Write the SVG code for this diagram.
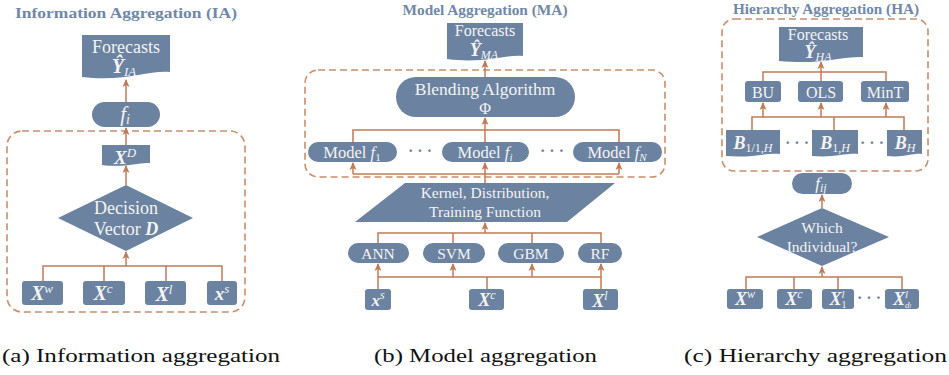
<svg xmlns="http://www.w3.org/2000/svg" width="949" height="375" viewBox="0 0 949 375">
<defs>
  <marker id="arr" markerUnits="userSpaceOnUse" markerWidth="9" markerHeight="9" refX="7" refY="4" orient="auto">
    <path d="M0,0.5 L8,4 L0,7.5 L2,4 Z" fill="#c07a55"/>
  </marker>
  <style>
    .box{fill:#6b82a0}
    .dash{fill:none;stroke:#c98e6c;stroke-width:1.6;stroke-dasharray:7,4}
    .ln{fill:none;stroke:#c07a55;stroke-width:1.5}
    .ar{fill:none;stroke:#c07a55;stroke-width:1.5;marker-end:url(#arr)}
    .t{font-family:"Liberation Serif","DejaVu Serif",serif;fill:#f4f4f4;text-anchor:middle}
    .m{font-family:"Liberation Serif","DejaVu Serif",serif;fill:#f4f4f4;font-style:italic;text-anchor:middle}
    .mb{font-weight:bold}
    .title{font-family:"Liberation Serif","DejaVu Serif",serif;font-weight:bold;fill:#7088a8;text-anchor:middle}
    .cap{font-family:"Liberation Serif","DejaVu Serif",serif;fill:#111;font-size:19px}
    .dots{font-family:"Liberation Serif","DejaVu Serif",serif;fill:#6b82a0;font-size:16px;text-anchor:middle;font-weight:bold}
  </style>
</defs>

<!-- ===== (a) Information aggregation ===== -->
<text class="title" x="126" y="18" font-size="15.5" textLength="222" lengthAdjust="spacingAndGlyphs">Information Aggregation (IA)</text>
<rect class="dash" x="7" y="131" width="238" height="181" rx="15"/>

<g id="ia-forecast">
  <path class="box" d="M82,35 H170 V72 C148,70 126,82 82,77 Z"/>
  <text class="t" x="126" y="53" font-size="18">Forecasts</text>
  <text class="m" x="124" y="73" font-size="20"><tspan class="mb">Ŷ</tspan><tspan font-size="13" dy="3">IA</tspan></text>
</g>
<g id="ia-fi">
  <rect class="box" x="92" y="102" width="68" height="25" rx="12.5"/>
  <text class="m" x="125" y="121" font-size="21">f<tspan font-size="14" dy="3">i</tspan></text>
</g>
<g id="ia-xd">
  <path class="box" d="M102,145 H150 V163 C138,162 126,168 102,165 Z"/>
  <text class="m" x="125" y="164" font-size="19"><tspan class="mb">X</tspan><tspan font-size="13" dy="-7">D</tspan></text>
</g>
<g id="ia-decision">
  <polygon class="box" points="126,185 193,218 126,251 58,218"/>
  <text class="t" x="126" y="214" font-size="18">Decision</text>
  <text class="t" x="126" y="235" font-size="18">Vector <tspan font-style="italic" font-weight="bold">D</tspan></text>
</g>
<g id="ia-xw">
  <rect class="box" x="22" y="281" width="41" height="24" rx="3"/>
  <text class="m" x="42" y="300" font-size="20"><tspan class="mb">X</tspan><tspan font-size="13" dy="-7">w</tspan></text>
</g>
<g id="ia-xc">
  <rect class="box" x="83" y="281" width="42" height="24" rx="3"/>
  <text class="m" x="103" y="300" font-size="20"><tspan class="mb">X</tspan><tspan font-size="13" dy="-7">c</tspan></text>
</g>
<g id="ia-xl">
  <rect class="box" x="145" y="281" width="41" height="24" rx="3"/>
  <text class="m" x="164" y="301" font-size="20"><tspan class="mb">X</tspan><tspan font-size="13" dy="-7">l</tspan></text>
</g>
<g id="ia-xs">
  <rect class="box" x="207" y="281" width="30" height="24" rx="3"/>
  <text class="m" x="222" y="300" font-size="19"><tspan class="mb">x</tspan><tspan font-size="13" dy="-7">s</tspan></text>
</g>

<!-- ===== (b) Model aggregation ===== -->
<text class="title" x="485" y="15" font-size="14" textLength="165" lengthAdjust="spacingAndGlyphs">Model Aggregation (MA)</text>
<rect class="dash" x="305" y="70" width="360" height="107" rx="13"/>

<g id="ma-forecast">
  <path class="box" d="M447,23 H523 V56 C505,54 485,64 447,59 Z"/>
  <text class="t" x="485" y="36" font-size="16">Forecasts</text>
  <text class="m" x="484" y="56" font-size="18"><tspan class="mb">Ŷ</tspan><tspan font-size="12" dy="3">MA</tspan></text>
</g>
<g id="ma-blend">
  <rect class="box" x="396" y="77" width="179" height="40" rx="20"/>
  <text class="t" x="485" y="95" font-size="17.5">Blending Algorithm</text>
  <text class="t" x="485" y="114" font-size="16">Φ</text>
</g>
<g id="ma-model1">
  <rect class="box" x="308" y="142" width="89" height="20" rx="10"/>
  <text class="t" x="352" y="158" font-size="16.5">Model <tspan font-style="italic">f</tspan><tspan font-size="11" dy="3">1</tspan></text>
</g>
<g id="ma-modeli">
  <rect class="box" x="442" y="142" width="87" height="20" rx="10"/>
  <text class="t" x="485" y="158" font-size="16.5">Model <tspan font-style="italic">f</tspan><tspan font-size="11" dy="3" font-style="italic">i</tspan></text>
</g>
<g id="ma-modeln">
  <rect class="box" x="573" y="142" width="89" height="20" rx="10"/>
  <text class="t" x="617" y="158" font-size="16.5">Model <tspan font-style="italic">f</tspan><tspan font-size="11" dy="3" font-style="italic">N</tspan></text>
</g>
<text class="dots" x="420" y="156">· · ·</text>
<text class="dots" x="552" y="156">· · ·</text>
<g id="ma-kernel">
  <polygon class="box" points="405,183 615,183 567,222 355,222"/>
  <text class="t" x="485" y="198" font-size="15.5">Kernel, Distribution,</text>
  <text class="t" x="485" y="217" font-size="15.5">Training Function</text>
</g>
<g id="ma-ann">
  <rect class="box" x="348" y="243" width="61" height="20" rx="10"/>
  <text class="t" x="378" y="258.5" font-size="15.5">ANN</text>
</g>
<g id="ma-svm">
  <rect class="box" x="423" y="243" width="62" height="20" rx="10"/>
  <text class="t" x="454" y="258.5" font-size="15.5">SVM</text>
</g>
<g id="ma-gbm">
  <rect class="box" x="498" y="243" width="66" height="20" rx="10"/>
  <text class="t" x="531" y="258.5" font-size="15.5">GBM</text>
</g>
<g id="ma-rf">
  <rect class="box" x="578" y="243" width="44" height="20" rx="10"/>
  <text class="t" x="600" y="258.5" font-size="15.5">RF</text>
</g>
<g id="ma-xs">
  <rect class="box" x="365" y="289" width="26" height="21" rx="3"/>
  <text class="m" x="378" y="306" font-size="17"><tspan class="mb">x</tspan><tspan font-size="12" dy="-7">s</tspan></text>
</g>
<g id="ma-xc">
  <rect class="box" x="469" y="289" width="35" height="21" rx="3"/>
  <text class="m" x="487" y="306" font-size="18"><tspan class="mb">X</tspan><tspan font-size="12" dy="-7">c</tspan></text>
</g>
<g id="ma-xl">
  <rect class="box" x="583" y="289" width="35" height="21" rx="3"/>
  <text class="m" x="600" y="307" font-size="18"><tspan class="mb">X</tspan><tspan font-size="12" dy="-7">l</tspan></text>
</g>

<!-- ===== (c) Hierarchy aggregation ===== -->
<text class="title" x="826" y="14" font-size="14" textLength="186" lengthAdjust="spacingAndGlyphs">Hierarchy Aggregation (HA)</text>
<rect class="dash" x="722" y="19" width="206" height="152" rx="12"/>

<g id="ha-forecast">
  <path class="box" d="M779,27 H863 V57 C843,56 822,65 779,61 Z"/>
  <text class="t" x="818" y="40" font-size="16">Forecasts</text>
  <text class="m" x="818" y="58" font-size="18"><tspan class="mb">Ŷ</tspan><tspan font-size="12" dy="3">HA</tspan></text>
</g>
<g id="ha-bu">
  <rect class="box" x="745" y="81" width="36" height="21" rx="3"/>
  <text class="t" x="763" y="97.5" font-size="16">BU</text>
</g>
<g id="ha-ols">
  <rect class="box" x="798" y="81" width="45" height="21" rx="3"/>
  <text class="t" x="821" y="97.5" font-size="16">OLS</text>
</g>
<g id="ha-mint">
  <rect class="box" x="861" y="81" width="48" height="21" rx="3"/>
  <text class="t" x="885" y="97.5" font-size="16">MinT</text>
</g>
<g id="ha-b11h">
  <path class="box" d="M726,130 H780 V154 C765,153 752,158 726,156 Z"/>
  <text class="m" x="753" y="149" font-size="18"><tspan class="mb">B</tspan><tspan font-size="12" dy="3" font-style="normal">1/1,</tspan><tspan font-size="12">H</tspan></text>
</g>
<g id="ha-b1h">
  <path class="box" d="M812,130 H858 V154 C845,153 834,158 812,156 Z"/>
  <text class="m" x="835" y="149" font-size="18"><tspan class="mb">B</tspan><tspan font-size="12" dy="3" font-style="normal">1,</tspan><tspan font-size="12">H</tspan></text>
</g>
<g id="ha-bh">
  <path class="box" d="M887,130 H922 V154 C912,153 904,158 887,156 Z"/>
  <text class="m" x="905" y="149" font-size="18"><tspan class="mb">B</tspan><tspan font-size="12" dy="3">H</tspan></text>
</g>
<text class="dots" x="797" y="148">· · ·</text>
<text class="dots" x="872" y="148">· · ·</text>
<g id="ha-fij">
  <rect class="box" x="792" y="173" width="60" height="21" rx="10.5"/>
  <text class="m" x="821" y="189" font-size="17">f<tspan font-size="12" dy="3">ij</tspan></text>
</g>
<g id="ha-which">
  <polygon class="box" points="822,208 889,237 822,266 757,237"/>
  <text class="t" x="822" y="233" font-size="15.5">Which</text>
  <text class="t" x="822" y="252" font-size="15.5">Individual?</text>
</g>
<g id="ha-xw">
  <rect class="box" x="727" y="289" width="36" height="20" rx="3"/>
  <text class="m" x="745" y="305" font-size="18"><tspan class="mb">X</tspan><tspan font-size="12" dy="-7">w</tspan></text>
</g>
<g id="ha-xc">
  <rect class="box" x="777" y="289" width="35" height="20" rx="3"/>
  <text class="m" x="794" y="305" font-size="18"><tspan class="mb">X</tspan><tspan font-size="12" dy="-7">c</tspan></text>
</g>
<g id="ha-xl1">
  <rect class="box" x="822" y="289" width="32" height="20" rx="3"/>
  <text class="m" x="838" y="305" font-size="18"><tspan class="mb">X</tspan><tspan font-size="11" dy="-7">l</tspan><tspan font-size="10" dx="-3" dy="10" font-style="normal">1</tspan></text>
</g>
<g id="ha-xld">
  <rect class="box" x="885" y="289" width="34" height="20" rx="3"/>
  <text class="m" x="902" y="305" font-size="18"><tspan class="mb">X</tspan><tspan font-size="11" dy="-7">l</tspan><tspan font-size="9" dx="-3" dy="10">d<tspan font-size="6">l</tspan></tspan></text>
</g>
<text class="dots" x="869" y="303">· · ·</text>

<!-- ===== connectors ===== -->
<g id="connectors">
  <!-- (a) -->
  <line class="ar" x1="126" y1="102" x2="126" y2="80"/>
  <line class="ar" x1="126" y1="145" x2="126" y2="128"/>
  <line class="ar" x1="126" y1="185" x2="126" y2="166"/>
  <path class="ln" d="M43,281 V266 H222 V281 M104,266 V281 M166,266 V281"/>
  <line class="ar" x1="126" y1="266" x2="126" y2="252"/>
  <!-- (b) -->
  <line class="ar" x1="485" y1="77" x2="485" y2="61"/>
  <path class="ln" d="M353,142 V130 H619 V142"/>
  <line class="ar" x1="485" y1="142" x2="485" y2="118"/>
  <path class="ln" d="M353,174 H619"/>
  <line class="ar" x1="353" y1="174" x2="353" y2="163"/>
  <line class="ar" x1="485" y1="183" x2="485" y2="163"/>
  <line class="ar" x1="619" y1="174" x2="619" y2="163"/>
  <path class="ln" d="M378,243 V233 H601 V243 M453,233 V243 M532,233 V243"/>
  <line class="ar" x1="485" y1="233" x2="485" y2="223"/>
  <path class="ln" d="M378,277 H601 M487,289 V277"/>
  <line class="ar" x1="378" y1="289" x2="378" y2="264"/>
  <line class="ar" x1="453" y1="277" x2="453" y2="264"/>
  <line class="ar" x1="532" y1="277" x2="532" y2="264"/>
  <line class="ar" x1="601" y1="289" x2="601" y2="264"/>
  <!-- (c) -->
  <path class="ln" d="M763,81 V72 H886 V81"/>
  <line class="ar" x1="821" y1="81" x2="821" y2="62"/>
  <path class="ln" d="M752,130 V117 H904 V130 M834,117 V130"/>
  <line class="ar" x1="763" y1="117" x2="763" y2="103"/>
  <line class="ar" x1="821" y1="117" x2="821" y2="103"/>
  <line class="ar" x1="886" y1="117" x2="886" y2="103"/>
  <line class="ar" x1="822" y1="208" x2="822" y2="195"/>
  <path class="ln" d="M746,289 V277 H902 V289 M794,277 V289 M838,277 V289"/>
  <line class="ar" x1="822" y1="277" x2="822" y2="267"/>
</g>

<!-- captions -->
<text class="cap" x="2" y="362" textLength="278" lengthAdjust="spacingAndGlyphs">(a) Information aggregation</text>
<text class="cap" x="374" y="362" textLength="223" lengthAdjust="spacingAndGlyphs">(b) Model aggregation</text>
<text class="cap" x="684" y="362" textLength="263" lengthAdjust="spacingAndGlyphs">(c) Hierarchy aggregation</text>
</svg>
